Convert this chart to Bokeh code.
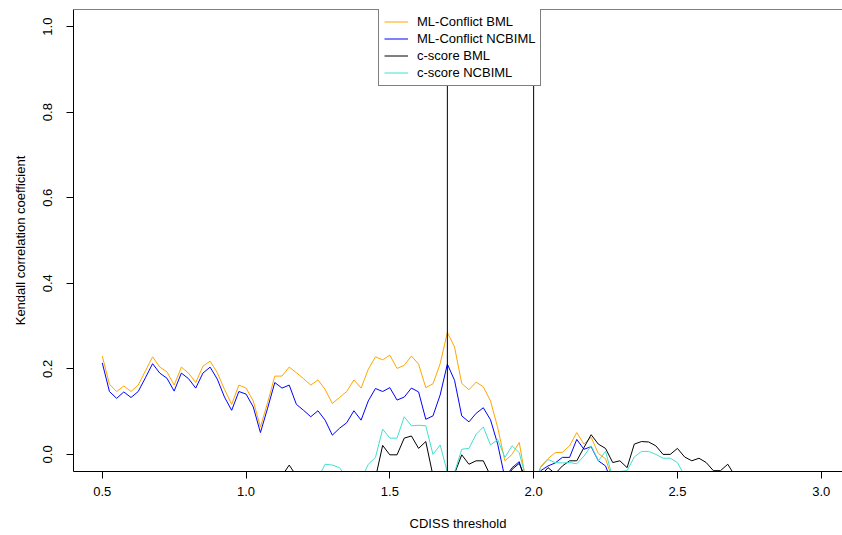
from bokeh.plotting import figure
from bokeh.models import Range1d, FixedTicker, Span, Legend, LegendItem
from bokeh.embed import file_html
from bokeh.resources import INLINE

# CDISS threshold grid
thresholds = [0.5, 0.525, 0.55, 0.575, 0.6, 0.625, 0.65, 0.675, 0.7, 0.725,
              0.75, 0.775, 0.8, 0.825, 0.85, 0.875, 0.9, 0.925, 0.95, 0.975,
              1.0, 1.025, 1.05, 1.075, 1.1, 1.125, 1.15, 1.175, 1.2, 1.225,
              1.25, 1.275, 1.3, 1.325, 1.35, 1.375, 1.4, 1.425, 1.45, 1.475,
              1.5, 1.525, 1.55, 1.575, 1.6, 1.625, 1.65, 1.675, 1.7, 1.725,
              1.75, 1.775, 1.8, 1.825, 1.85, 1.875, 1.9, 1.925, 1.95, 1.975,
              2.0, 2.025, 2.05, 2.075, 2.1, 2.125, 2.15, 2.175, 2.2, 2.225,
              2.25, 2.275, 2.3, 2.325, 2.35, 2.375, 2.4, 2.425, 2.45, 2.475,
              2.5, 2.525, 2.55, 2.575, 2.6, 2.625, 2.65, 2.675, 2.7, 2.725,
              2.75, 2.775, 2.8, 2.825, 2.85, 2.875, 2.9, 2.925, 2.95, 2.975,
              3.0]

ml_conflict_bml = [0.230, 0.164, 0.147, 0.160, 0.147, 0.162, 0.195, 0.228, 0.204, 0.193,
                   0.162, 0.204, 0.190, 0.168, 0.206, 0.218, 0.191, 0.152, 0.117, 0.162,
                   0.155, 0.125, 0.064, 0.121, 0.183, 0.183, 0.204, 0.191, 0.177, 0.162,
                   0.174, 0.152, 0.119, 0.133, 0.147, 0.174, 0.155, 0.199, 0.228, 0.221,
                   0.232, 0.201, 0.208, 0.230, 0.211, 0.156, 0.165, 0.212, 0.285, 0.251,
                   0.166, 0.151, 0.169, 0.158, 0.125, 0.063, -0.015, 0.000, 0.028, -0.070,
                   -0.080, -0.028, -0.010, 0.004, 0.005, 0.020, 0.051, 0.024, 0.040, 0.002,
                   -0.010, -0.060, -0.040, -0.070, -0.085, -0.090, -0.080, -0.095, -0.100, -0.090,
                   -0.110, -0.100, -0.120, -0.105, -0.110, -0.125, -0.115, -0.130, -0.120, -0.135,
                   -0.125, -0.140, -0.130, -0.145, -0.135, -0.150, -0.140, -0.150, -0.145, -0.155,
                   -0.150]

ml_conflict_ncbiml = [0.214, 0.147, 0.131, 0.146, 0.133, 0.147, 0.179, 0.212, 0.190, 0.178,
                      0.148, 0.190, 0.177, 0.155, 0.190, 0.204, 0.176, 0.134, 0.103, 0.147,
                      0.141, 0.111, 0.051, 0.108, 0.168, 0.155, 0.162, 0.117, 0.103, 0.088,
                      0.102, 0.080, 0.045, 0.061, 0.074, 0.102, 0.080, 0.125, 0.154, 0.147,
                      0.156, 0.127, 0.134, 0.155, 0.146, 0.082, 0.090, 0.139, 0.211, 0.173,
                      0.090, 0.076, 0.096, 0.109, 0.081, 0.024, -0.055, -0.031, -0.017, -0.075,
                      -0.085, -0.038, -0.027, -0.020, -0.007, -0.007, 0.035, 0.012, 0.018, -0.015,
                      -0.027, -0.070, -0.065, -0.080, -0.090, -0.095, -0.090, -0.100, -0.110, -0.100,
                      -0.115, -0.110, -0.125, -0.115, -0.120, -0.130, -0.125, -0.135, -0.130, -0.140,
                      -0.135, -0.145, -0.140, -0.150, -0.145, -0.155, -0.150, -0.155, -0.150, -0.160,
                      -0.155]

cscore_bml = [-0.080, -0.090, -0.085, -0.095, -0.090, -0.100, -0.085, -0.075, -0.080, -0.090,
              -0.095, -0.085, -0.080, -0.090, -0.075, -0.070, -0.080, -0.095, -0.100, -0.085,
              -0.080, -0.090, -0.110, -0.085, -0.060, -0.050, -0.025, -0.050, -0.070, -0.080,
              -0.075, -0.085, -0.090, -0.080, -0.075, -0.070, -0.065, -0.060, -0.055, 0.021,
              -0.001, -0.001, 0.038, 0.043, 0.014, 0.030, -0.050, -0.060, -0.070, -0.045,
              -0.001, -0.023, -0.015, -0.015, -0.050, -0.065, -0.060, -0.035, -0.021, -0.060,
              -0.070, -0.050, -0.031, -0.045, -0.027, -0.015, -0.015, 0.016, 0.046, 0.024,
              0.014, -0.019, -0.015, -0.031, 0.024, 0.030, 0.029, 0.020, 0.000, 0.000,
              0.014, -0.006, -0.015, -0.009, -0.019, -0.038, -0.038, -0.023, -0.050, -0.060,
              -0.065, -0.070, -0.075, -0.070, -0.080, -0.085, -0.080, -0.090, -0.085, -0.095,
              -0.090]

cscore_ncbiml = [-0.090, -0.095, -0.100, -0.090, -0.085, -0.095, -0.100, -0.090, -0.085, -0.080,
                 -0.090, -0.095, -0.085, -0.080, -0.090, -0.085, -0.075, -0.080, -0.090, -0.095,
                 -0.085, -0.080, -0.090, -0.085, -0.075, -0.070, -0.080, -0.075, -0.070, -0.060,
                 -0.055, -0.023, -0.025, -0.031, -0.055, -0.065, -0.060, -0.023, -0.007, 0.059,
                 0.038, 0.038, 0.088, 0.067, 0.068, 0.067, 0.000, 0.022, -0.042, -0.042,
                 0.012, 0.014, 0.047, 0.064, 0.022, 0.035, -0.007, 0.020, 0.004, -0.060,
                 -0.065, -0.030, -0.012, -0.019, -0.020, -0.019, -0.022, -0.004, 0.020, -0.015,
                 0.007, -0.055, -0.040, -0.038, -0.006, 0.007, 0.007, 0.000, -0.009, -0.009,
                 -0.019, -0.050, -0.060, -0.065, -0.070, -0.075, -0.080, -0.075, -0.085, -0.090,
                 -0.085, -0.095, -0.090, -0.100, -0.095, -0.105, -0.100, -0.110, -0.105, -0.110,
                 -0.115]

series_names = ["ML-Conflict BML", "ML-Conflict NCBIML", "c-score BML", "c-score NCBIML"]
series_colors = ["orange", "blue", "black", "turquoise"]
series_values = [ml_conflict_bml, ml_conflict_ncbiml, cscore_bml, cscore_ncbiml]

x_ticks = [0.5, 1.0, 1.5, 2.0, 2.5, 3.0]
x_tick_labels = ["0.5", "1.0", "1.5", "2.0", "2.5", "3.0"]
y_ticks = [0.0, 0.2, 0.4, 0.6, 0.8, 1.0]
y_tick_labels = ["0.0", "0.2", "0.4", "0.6", "0.8", "1.0"]
vline_x = [1.7, 2.0]

FONT = "Liberation Sans"
FS = "13px"

p = figure(width=842, height=535, output_backend="svg", toolbar_location=None,
           x_range=Range1d(0.4, 3.074), y_range=Range1d(-0.04, 1.04),
           min_border_left=73, min_border_right=0, min_border_top=9, min_border_bottom=64,
           background_fill_color="white", border_fill_color="white")
p.outline_line_color = None
p.grid.visible = False

renderers = []
for name, col, vals in zip(series_names, series_colors, series_values):
    r = p.line(thresholds, vals, line_color=col, line_width=1)
    renderers.append((name, r))

for vx in vline_x:
    p.add_layout(Span(location=vx, dimension="height", line_color="black", line_width=1))
# top edge of the box
p.add_layout(Span(location=1.04, dimension="width", line_color="black", line_width=1))

for ax, ticks, labels in ((p.xaxis[0], x_ticks, x_tick_labels), (p.yaxis[0], y_ticks, y_tick_labels)):
    ax.ticker = FixedTicker(ticks=ticks)
    ax.major_label_overrides = {t: l for t, l in zip(ticks, labels)}
    ax.minor_tick_line_color = None
    ax.major_tick_in = 0
    ax.major_tick_out = 7
    ax.axis_line_color = "black"
    ax.major_tick_line_color = "black"
    ax.major_label_text_font = FONT
    ax.major_label_text_font_size = FS
    ax.major_label_text_color = "black"
    ax.axis_label_text_font = FONT
    ax.axis_label_text_font_size = FS
    ax.axis_label_text_font_style = "normal"
    ax.axis_label_text_color = "black"

p.xaxis[0].axis_label = "CDISS threshold"
p.xaxis[0].major_label_standoff = 8
p.xaxis[0].axis_label_standoff = 17
p.yaxis[0].axis_label = "Kendall correlation coefficient"
p.yaxis[0].major_label_orientation = "vertical"
p.yaxis[0].major_label_standoff = 14
p.yaxis[0].axis_label_standoff = 13

legend = Legend(items=[LegendItem(label=n, renderers=[r]) for n, r in renderers],
                location=(305, 385))
legend.border_line_color = "black"
legend.border_line_width = 1
legend.background_fill_color = "white"
legend.background_fill_alpha = 1.0
legend.padding = 5
legend.spacing = 1
legend.margin = 0
legend.glyph_width = 24
legend.glyph_height = 15
legend.label_height = 16
legend.label_standoff = 9
legend.label_text_font = FONT
legend.label_text_font_size = FS
legend.label_text_color = "black"
p.add_layout(legend)

open("out.html", "w").write(file_html(p, INLINE))
